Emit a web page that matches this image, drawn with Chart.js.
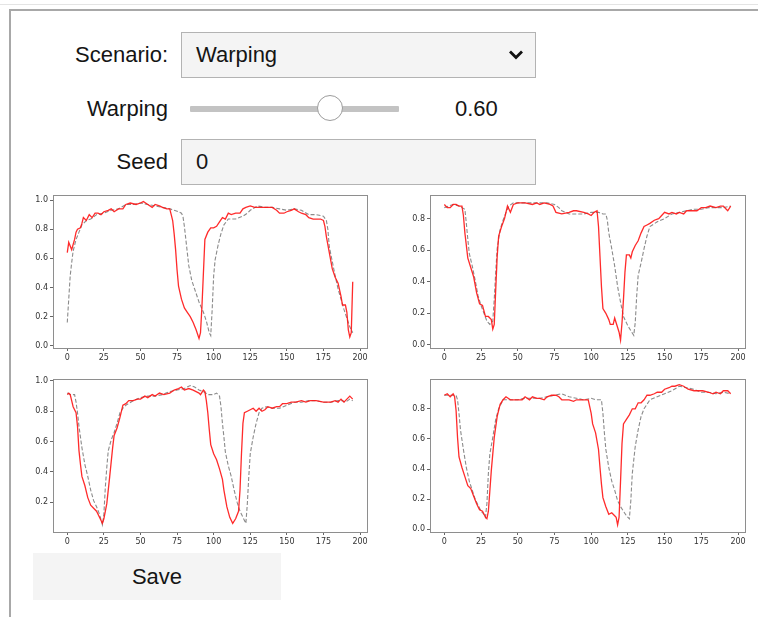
<!DOCTYPE html>
<html lang="en">
<head>
<meta charset="UTF-8">
<title>Warping</title>
<script src="https://cdn.jsdelivr.net/npm/chart.js"></script>
<style>
    body { margin: 0; width: 758px; height: 617px; overflow: hidden; background: #fff; position: relative;
           font-family: "Liberation Sans", Arial, sans-serif; color: #151515; }
    .topline { position: absolute; left: 0; top: 4px; width: 758px; height: 1px; background: #e4e4e4; }
    .frame { position: absolute; left: 9px; top: 9px; width: 800px; height: 700px; border: 2px solid #a8a8a8; }
    .lbl { position: absolute; left: 40px; width: 128px; text-align: right; font-size: 22px; line-height: 24px; }
    .box { position: absolute; left: 181px; width: 355px; height: 46px; box-sizing: border-box; background: #f4f4f4;
           border: 1px solid #b3b3b3; font-size: 22px; line-height: 44px; padding-left: 14px; }
    .track { position: absolute; left: 190px; top: 106px; width: 209px; height: 6px; background: #c3c3c3; border-radius: 1px; }
    .thumb { position: absolute; left: 317px; top: 95px; width: 26px; height: 26px; box-sizing: border-box;
             border: 1px solid #9c9c9c; border-radius: 50%; background: #fff; }
    .val { position: absolute; left: 455px; top: 97px; font-size: 22px; line-height: 24px; }
    .save { position: absolute; left: 33px; top: 553px; width: 248px; height: 47px; background: #f4f4f4;
            font-size: 22px; line-height: 47px; text-align: center; }
    .plot { position: absolute; }
</style>
</head>
<body>
    <div class="topline"></div>
    <div class="frame"></div>

    <div class="lbl" style="top:43px;">Scenario:</div>
    <div class="box" style="top:32px;">Warping
        <svg style="position:absolute; left:326px; top:16px;" width="16" height="12" viewBox="0 0 16 12">
            <polyline points="2,2.5 8,8.5 14,2.5" fill="none" stroke="#111" stroke-width="2.8"/>
        </svg>
    </div>

    <div class="lbl" style="top:97px;">Warping</div>
    <div class="track"></div>
    <div class="thumb"></div>
    <div class="val">0.60</div>

    <div class="lbl" style="top:150px;">Seed</div>
    <div class="box" style="top:139px;">0</div>

    <canvas id="g1" class="plot" width="339" height="177" style="left:29px; top:189px;"></canvas>
    <canvas id="g2" class="plot" width="340" height="177" style="left:406px; top:189px;"></canvas>
    <canvas id="g3" class="plot" width="339" height="177" style="left:29px; top:373px;"></canvas>
    <canvas id="g4" class="plot" width="340" height="177" style="left:406px; top:373px;"></canvas>

    <div class="save">Save</div>

<script>
    // tick labels
    const xTicks = [0, 25, 50, 75, 100, 125, 150, 175, 200];
    const yTicks = [0.0, 0.2, 0.4, 0.6, 0.8, 1.0];
    const xRange = [-9.75, 204.75];
    const yRanges = [[-0.015, 1.035], [-0.02, 0.95], [0.003, 1.013], [-0.018, 0.998]];

    // [x, y]: red = warped series, gray = original
    const redA = [[0,0.64],[1,0.71],[3,0.66],[5,0.73],[6,0.78],[7,0.80],[9,0.81],[10,0.84],[11,0.88],[13,0.86],[15,0.90],[17,0.88],[19,0.91],[21,0.91],[23,0.90],[25,0.92],[28,0.93],[30,0.94],[32,0.92],[35,0.94],[38,0.94],[40,0.97],[43,0.98],[47,0.97],[50,0.98],[52,0.99],[55,0.97],[58,0.95],[60,0.97],[63,0.96],[65,0.95],[68,0.94],[70,0.94],[71,0.90],[72,0.86],[73,0.77],[74,0.66],[75,0.52],[76,0.41],[78,0.32],[80,0.26],[82,0.23],[84,0.20],[86,0.16],[88,0.11],[90,0.05],[91,0.09],[92,0.27],[93,0.50],[94,0.73],[96,0.78],[98,0.81],[100,0.81],[102,0.82],[104,0.85],[106,0.88],[108,0.87],[110,0.91],[112,0.90],[115,0.91],[118,0.91],[120,0.94],[122,0.95],[125,0.96],[128,0.95],[130,0.95],[133,0.95],[136,0.95],[140,0.95],[143,0.93],[145,0.91],[148,0.91],[150,0.92],[153,0.93],[155,0.94],[158,0.92],[160,0.91],[163,0.90],[165,0.88],[168,0.87],[170,0.87],[173,0.87],[175,0.86],[176,0.82],[177,0.75],[179,0.64],[181,0.53],[183,0.47],[185,0.43],[187,0.34],[188,0.28],[190,0.28],[191,0.23],[192,0.11],[193,0.06],[194,0.09],[195,0.44]];
    const grayA = [[0,0.16],[1,0.32],[2,0.48],[3,0.57],[4,0.65],[6,0.73],[8,0.78],[10,0.83],[13,0.86],[16,0.87],[20,0.90],[25,0.91],[30,0.93],[35,0.94],[40,0.97],[45,0.97],[50,0.98],[55,0.97],[60,0.96],[65,0.95],[70,0.94],[73,0.93],[76,0.92],[78,0.91],[79,0.89],[80,0.82],[81,0.73],[82,0.64],[83,0.55],[85,0.45],[87,0.39],[90,0.30],[93,0.23],[95,0.17],[97,0.09],[98,0.07],[99,0.25],[100,0.48],[101,0.59],[103,0.69],[105,0.77],[107,0.83],[110,0.87],[115,0.87],[120,0.89],[123,0.91],[125,0.93],[130,0.96],[135,0.95],[140,0.95],[145,0.94],[150,0.93],[155,0.94],[160,0.93],[165,0.90],[170,0.90],[175,0.89],[177,0.86],[178,0.80],[179,0.68],[181,0.58],[183,0.48],[185,0.39],[187,0.32],[189,0.25],[191,0.19],[193,0.13],[195,0.09]];

    const redB = [[0,0.89],[2,0.87],[4,0.87],[6,0.89],[8,0.89],[10,0.88],[12,0.88],[13,0.82],[14,0.71],[15,0.63],[16,0.55],[18,0.49],[20,0.43],[22,0.33],[24,0.26],[26,0.25],[28,0.18],[30,0.18],[32,0.16],[33,0.10],[34,0.13],[35,0.35],[36,0.56],[37,0.69],[39,0.75],[41,0.80],[43,0.88],[45,0.84],[47,0.89],[50,0.90],[55,0.90],[60,0.89],[63,0.90],[65,0.89],[68,0.90],[72,0.89],[74,0.88],[76,0.84],[80,0.83],[85,0.84],[88,0.85],[90,0.85],[95,0.84],[98,0.83],[100,0.82],[102,0.84],[104,0.85],[105,0.75],[106,0.56],[107,0.37],[108,0.23],[110,0.20],[112,0.16],[113,0.13],[115,0.13],[116,0.17],[117,0.14],[119,0.08],[120,0.03],[121,0.14],[122,0.29],[123,0.46],[124,0.57],[126,0.57],[127,0.55],[128,0.59],[130,0.63],[132,0.66],[134,0.71],[136,0.75],[138,0.76],[140,0.77],[143,0.79],[146,0.80],[148,0.82],[150,0.84],[153,0.83],[155,0.84],[158,0.83],[160,0.84],[163,0.83],[165,0.85],[168,0.85],[172,0.85],[175,0.87],[178,0.87],[181,0.88],[185,0.87],[188,0.88],[190,0.88],[192,0.86],[193,0.85],[195,0.88]];
    const grayB = [[0,0.87],[3,0.88],[6,0.89],[10,0.88],[12,0.87],[14,0.86],[15,0.77],[16,0.67],[17,0.58],[19,0.50],[21,0.41],[23,0.31],[25,0.25],[27,0.20],[29,0.15],[31,0.13],[33,0.15],[34,0.29],[35,0.46],[36,0.61],[38,0.73],[40,0.79],[42,0.84],[44,0.88],[47,0.90],[50,0.90],[55,0.90],[60,0.90],[65,0.90],[70,0.90],[75,0.89],[78,0.87],[80,0.85],[85,0.83],[90,0.83],[95,0.83],[100,0.84],[105,0.84],[108,0.83],[110,0.83],[111,0.79],[112,0.71],[114,0.61],[116,0.50],[118,0.37],[120,0.27],[122,0.18],[125,0.12],[127,0.09],[129,0.06],[130,0.14],[131,0.31],[132,0.44],[134,0.52],[136,0.61],[138,0.69],[140,0.75],[145,0.78],[150,0.80],[155,0.83],[160,0.84],[165,0.85],[170,0.86],[175,0.86],[180,0.87],[185,0.87],[190,0.87],[195,0.88]];

    const redC = [[0,0.91],[1,0.92],[2,0.91],[3,0.87],[4,0.83],[6,0.79],[7,0.70],[8,0.54],[9,0.45],[10,0.37],[12,0.31],[14,0.23],[16,0.18],[18,0.16],[20,0.14],[22,0.10],[24,0.06],[25,0.09],[27,0.19],[29,0.37],[31,0.56],[32,0.64],[34,0.69],[36,0.76],[38,0.84],[40,0.85],[42,0.87],[45,0.87],[48,0.88],[50,0.88],[53,0.90],[55,0.89],[58,0.91],[60,0.90],[63,0.92],[66,0.91],[70,0.92],[73,0.94],[76,0.95],[78,0.96],[80,0.94],[83,0.95],[86,0.94],[88,0.93],[90,0.92],[91,0.91],[93,0.94],[94,0.93],[95,0.87],[96,0.79],[97,0.68],[98,0.58],[100,0.52],[102,0.48],[104,0.42],[106,0.35],[107,0.28],[109,0.17],[111,0.10],[113,0.06],[115,0.09],[117,0.14],[118,0.28],[119,0.52],[120,0.72],[121,0.79],[123,0.80],[125,0.81],[127,0.82],[129,0.80],[131,0.82],[133,0.80],[135,0.81],[137,0.83],[140,0.82],[143,0.83],[145,0.83],[147,0.85],[150,0.85],[153,0.86],[156,0.86],[160,0.87],[163,0.86],[166,0.87],[170,0.87],[175,0.86],[180,0.86],[183,0.87],[185,0.86],[187,0.88],[189,0.86],[191,0.88],[193,0.90],[195,0.88]];
    const grayC = [[0,0.92],[2,0.91],[5,0.91],[6,0.86],[7,0.79],[8,0.70],[10,0.56],[12,0.45],[14,0.37],[16,0.28],[18,0.21],[20,0.17],[22,0.12],[24,0.05],[25,0.12],[26,0.30],[27,0.43],[28,0.54],[30,0.61],[32,0.66],[34,0.72],[36,0.79],[38,0.82],[40,0.84],[45,0.87],[50,0.89],[55,0.90],[60,0.90],[65,0.91],[70,0.93],[75,0.94],[80,0.95],[84,0.97],[87,0.96],[90,0.94],[93,0.93],[96,0.91],[100,0.91],[102,0.92],[104,0.90],[105,0.83],[106,0.72],[107,0.63],[108,0.53],[110,0.44],[112,0.37],[114,0.28],[116,0.20],[118,0.14],[120,0.10],[122,0.06],[123,0.19],[124,0.37],[125,0.52],[127,0.63],[129,0.72],[131,0.79],[133,0.82],[136,0.83],[140,0.82],[145,0.82],[150,0.84],[155,0.86],[160,0.86],[165,0.87],[170,0.87],[175,0.86],[180,0.86],[185,0.87],[188,0.87],[190,0.86],[193,0.88],[195,0.87]];

    const redD = [[0,0.89],[2,0.90],[4,0.88],[6,0.90],[7,0.88],[8,0.79],[9,0.61],[10,0.48],[12,0.41],[14,0.35],[16,0.29],[18,0.27],[20,0.22],[22,0.17],[24,0.13],[26,0.12],[28,0.08],[29,0.07],[30,0.12],[32,0.39],[34,0.61],[36,0.75],[38,0.83],[40,0.86],[42,0.88],[45,0.86],[50,0.86],[53,0.86],[55,0.88],[58,0.86],[60,0.88],[63,0.87],[65,0.87],[68,0.86],[70,0.88],[73,0.89],[76,0.89],[78,0.88],[80,0.86],[85,0.86],[88,0.85],[90,0.86],[95,0.86],[98,0.86],[100,0.77],[101,0.70],[103,0.64],[105,0.53],[106,0.41],[107,0.30],[108,0.21],[110,0.15],[112,0.10],[114,0.11],[116,0.09],[117,0.08],[118,0.03],[119,0.08],[120,0.32],[121,0.57],[122,0.70],[124,0.73],[126,0.76],[128,0.80],[130,0.80],[132,0.84],[134,0.84],[136,0.86],[138,0.89],[140,0.89],[143,0.90],[145,0.91],[148,0.91],[150,0.93],[153,0.94],[155,0.95],[157,0.95],[160,0.96],[163,0.95],[166,0.93],[170,0.92],[173,0.92],[176,0.92],[180,0.91],[183,0.90],[185,0.91],[188,0.90],[190,0.92],[193,0.92],[195,0.90]];
    const grayD = [[0,0.89],[5,0.89],[8,0.89],[9,0.86],[10,0.77],[11,0.66],[13,0.53],[15,0.41],[17,0.32],[19,0.26],[21,0.20],[23,0.16],[25,0.12],[27,0.10],[28,0.08],[29,0.17],[30,0.37],[31,0.50],[33,0.61],[35,0.73],[37,0.80],[40,0.86],[45,0.86],[50,0.86],[55,0.87],[60,0.87],[65,0.87],[70,0.88],[75,0.89],[80,0.90],[85,0.88],[90,0.87],[95,0.86],[100,0.87],[103,0.86],[105,0.86],[107,0.86],[108,0.77],[109,0.64],[110,0.53],[112,0.41],[114,0.32],[116,0.26],[118,0.19],[120,0.15],[122,0.12],[124,0.09],[126,0.07],[127,0.19],[128,0.37],[130,0.55],[132,0.66],[134,0.75],[136,0.80],[140,0.86],[145,0.88],[150,0.90],[155,0.92],[160,0.95],[165,0.94],[170,0.93],[175,0.91],[180,0.91],[185,0.90],[190,0.91],[195,0.90]];

    const panels = [
        { id: 'g1', red: redA, gray: grayA, yRange: yRanges[0] },
        { id: 'g2', red: redB, gray: grayB, yRange: yRanges[1] },
        { id: 'g3', red: redC, gray: grayC, yRange: yRanges[2] },
        { id: 'g4', red: redD, gray: grayD, yRange: yRanges[3] }
    ];

    const frameColor = '#8e8e8e';
    const tickFont = { family: 'DejaVu Sans', size: 8 };

    function frameAxis(position) {
        // top/right side of the box, no ticks
        return {
            type: 'linear', position: position,
            ticks: { display: false },
            grid: { display: false, drawTicks: false },
            border: { display: true, color: frameColor, width: 1 },
            afterFit: function (s) {
                if (position === 'top') s.height = 0; else s.width = 0;
                s.paddingLeft = s.paddingRight = s.paddingTop = s.paddingBottom = 0;
            }
        };
    }

    function drawPanel(p) {
        const ctx = document.getElementById(p.id).getContext('2d');
        new Chart(ctx, {
            type: 'line',
            data: {
                datasets: [{
                    data: p.red,
                    borderColor: 'rgba(255, 20, 20, 0.9)',
                    borderWidth: 1.3,
                    pointRadius: 0,
                    tension: 0
                }, {
                    data: p.gray,
                    borderColor: 'rgba(110, 110, 110, 0.8)',
                    borderWidth: 1.1,
                    borderDash: [4, 2],
                    pointRadius: 0,
                    tension: 0
                }]
            },
            options: {
                responsive: false,
                animation: false,
                events: [],
                layout: { padding: { top: 6, right: 1, left: 0, bottom: 0 } },
                plugins: { legend: { display: false }, tooltip: { enabled: false } },
                scales: {
                    x: {
                        type: 'linear', position: 'bottom', bounds: 'data',
                        min: xRange[0], max: xRange[1],
                        afterBuildTicks: function (s) { s.ticks = xTicks.map(v => ({ value: v })); },
                        afterFit: function (s) { s.height = 18; s.paddingLeft = 0; s.paddingRight = 0; },
                        ticks: { font: tickFont, color: '#333', padding: 2, maxRotation: 0, autoSkip: false,
                                 callback: v => String(v) },
                        grid: { drawOnChartArea: false, drawTicks: true, tickLength: 3, tickColor: '#666' },
                        border: { display: true, color: frameColor, width: 1 }
                    },
                    y: {
                        type: 'linear', position: 'left', bounds: 'data',
                        min: p.yRange[0], max: p.yRange[1],
                        afterBuildTicks: function (s) {
                            s.ticks = yTicks.filter(v => v >= p.yRange[0] && v <= p.yRange[1]).map(v => ({ value: v }));
                        },
                        afterFit: function (s) { s.width = 24; s.paddingTop = 0; s.paddingBottom = 0; },
                        ticks: { font: tickFont, color: '#333', padding: 2, autoSkip: false,
                                 callback: v => v.toFixed(1) },
                        grid: { drawOnChartArea: false, drawTicks: true, tickLength: 3, tickColor: '#666' },
                        border: { display: true, color: frameColor, width: 1 }
                    },
                    xTop: frameAxis('top'),
                    yRight: frameAxis('right')
                }
            }
        });
    }

    panels.forEach(drawPanel);
</script>
</body>
</html>
